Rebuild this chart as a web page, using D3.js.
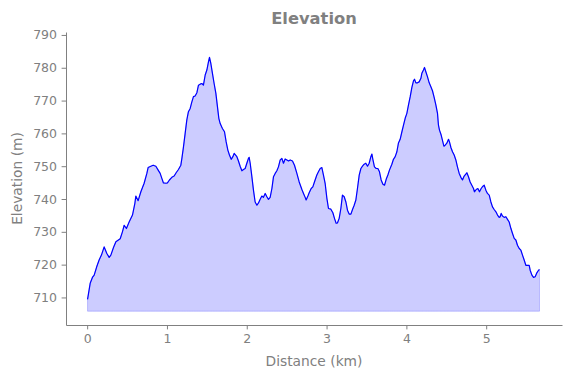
<!DOCTYPE html>
<html>
<head>
<meta charset="utf-8">
<script src="https://cdn.jsdelivr.net/npm/d3@7"></script>
<style>
  body { margin: 0; background: #fff; }
  text { font-family: "DejaVu Sans", sans-serif; }
</style>
</head>
<body>
<script>
// distance (km) and elevation (m)
const distance = [
  0.005, 0.038, 0.066, 0.088, 0.122, 0.150, 0.179, 0.213, 0.247, 0.276, 0.297, 0.330, 0.360, 0.414, 0.442, 0.464,
  0.492, 0.526, 0.568, 0.598, 0.610, 0.639, 0.673, 0.714, 0.748, 0.764, 0.798, 0.827, 0.861, 0.890, 0.915, 0.936,
  0.956, 0.990, 1.006, 1.031, 1.061, 1.090, 1.115, 1.144, 1.174, 1.187, 1.207, 1.228, 1.249, 1.269, 1.291, 1.312,
  1.332, 1.353, 1.375, 1.395, 1.416, 1.437, 1.457, 1.479, 1.500, 1.520, 1.533, 1.550, 1.570, 1.591, 1.613, 1.633,
  1.650, 1.667, 1.695, 1.721, 1.742, 1.763, 1.783, 1.805, 1.826, 1.842, 1.876, 1.896, 1.917, 1.939, 1.959, 1.980,
  2.001, 2.021, 2.030, 2.043, 2.064, 2.084, 2.105, 2.127, 2.147, 2.168, 2.189, 2.209, 2.231, 2.252, 2.272, 2.293,
  2.315, 2.335, 2.356, 2.377, 2.397, 2.419, 2.440, 2.460, 2.481, 2.503, 2.523, 2.544, 2.573, 2.598, 2.628, 2.657,
  2.691, 2.711, 2.732, 2.744, 2.766, 2.782, 2.807, 2.828, 2.848, 2.878, 2.898, 2.920, 2.941, 2.961, 2.982, 3.004,
  3.024, 3.054, 3.079, 3.099, 3.120, 3.136, 3.158, 3.179, 3.199, 3.221, 3.242, 3.262, 3.283, 3.305, 3.325, 3.346,
  3.367, 3.387, 3.409, 3.430, 3.450, 3.471, 3.492, 3.513, 3.534, 3.555, 3.568, 3.580, 3.600, 3.622, 3.643, 3.663,
  3.684, 3.706, 3.726, 3.747, 3.768, 3.788, 3.818, 3.838, 3.860, 3.881, 3.901, 3.922, 3.944, 3.964, 3.985, 4.006,
  4.026, 4.048, 4.069, 4.089, 4.102, 4.119, 4.139, 4.160, 4.182, 4.194, 4.214, 4.227, 4.244, 4.264, 4.286, 4.307,
  4.327, 4.348, 4.370, 4.390, 4.402, 4.415, 4.436, 4.457, 4.470, 4.486, 4.507, 4.528, 4.540, 4.558, 4.578, 4.599,
  4.620, 4.640, 4.662, 4.683, 4.703, 4.724, 4.758, 4.778, 4.799, 4.820, 4.841, 4.853, 4.875, 4.896, 4.916, 4.937,
  4.959, 4.975, 4.996, 5.016, 5.038, 5.059, 5.079, 5.100, 5.122, 5.142, 5.163, 5.175, 5.188, 5.204, 5.226, 5.247,
  5.267, 5.288, 5.310, 5.330, 5.351, 5.372, 5.392, 5.414, 5.435, 5.455, 5.476, 5.497, 5.518, 5.539, 5.551, 5.573,
  5.593, 5.614, 5.635, 5.656, 5.668
];
const elevation = [
  709.4, 714.3, 716.1, 716.8, 719.5, 721.4, 722.9, 725.4, 723.4, 722.2, 722.9, 725.2, 727.0, 727.9, 730.0, 732.0,
  731.0, 733.0, 735.1, 738.7, 740.9, 739.5, 742.2, 744.8, 747.8, 749.6, 750.0, 750.3, 750.0, 748.8, 747.8, 746.3,
  744.9, 744.8, 744.9, 745.8, 746.6, 747.0, 748.0, 749.0, 750.3, 752.4, 755.9, 760.0, 764.1, 766.6, 767.6, 769.6,
  771.2, 771.4, 772.4, 774.7, 775.0, 775.2, 774.7, 777.8, 779.3, 781.8, 783.2, 781.3, 778.3, 775.2, 772.2, 768.1,
  764.6, 763.0, 761.5, 760.5, 757.4, 754.9, 753.4, 752.1, 752.9, 753.9, 752.9, 751.6, 750.0, 748.6, 749.0, 749.3,
  750.9, 752.4, 752.7, 750.9, 746.8, 742.7, 739.1, 738.1, 738.8, 739.9, 740.9, 740.5, 741.7, 740.7, 739.9, 740.5,
  743.2, 746.8, 747.8, 748.6, 749.8, 751.9, 752.4, 750.9, 752.2, 751.9, 751.6, 751.9, 751.6, 750.3, 747.8, 745.2,
  742.9, 741.7, 740.5, 739.7, 740.9, 741.9, 743.2, 743.7, 745.2, 747.3, 748.3, 749.3, 749.6, 747.3, 744.8, 740.2,
  737.1, 736.9, 735.8, 734.1, 732.6, 732.7, 734.1, 737.1, 741.2, 740.7, 739.1, 736.6, 735.4, 735.4, 736.8, 738.1,
  739.7, 743.2, 747.3, 749.3, 750.0, 750.6, 750.9, 750.0, 750.9, 752.9, 753.7, 752.1, 749.8, 749.3, 749.3, 748.3,
  745.8, 744.5, 744.2, 746.0, 747.3, 748.8, 750.6, 752.1, 752.9, 754.4, 757.1, 758.2, 760.5, 762.5, 764.6, 766.1,
  768.6, 771.2, 774.0, 776.0, 776.5, 775.4, 775.4, 775.7, 776.8, 778.3, 779.3, 780.1, 778.8, 777.3, 775.4, 774.2,
  773.0, 771.0, 768.6, 766.1, 762.5, 761.0, 759.5, 757.4, 756.1, 756.4, 757.0, 758.2, 757.4, 755.7, 754.4, 753.4,
  751.9, 749.8, 747.8, 746.6, 745.8, 747.0, 748.0, 746.8, 745.2, 744.2, 743.2, 742.2, 742.9, 743.2, 742.2, 743.2,
  743.9, 744.2, 742.7, 741.7, 741.2, 739.1, 737.6, 736.8, 736.1, 735.1, 734.4, 734.6, 735.6, 734.8, 734.4, 734.6,
  733.8, 733.0, 731.0, 729.5, 728.0, 727.5, 725.9, 724.9, 724.4, 722.9, 721.4, 719.8, 719.8, 719.8, 718.3, 716.8,
  716.1, 716.3, 717.5, 718.3, 718.5
];
const xTicks = [0, 1, 2, 3, 4, 5];
const yTicks = [710, 720, 730, 740, 750, 760, 770, 780, 790];
const fillBase = 705.8;

const W = 571, H = 378;
const margin = {top: 32, right: 9, bottom: 53, left: 66};
const gray = "#808080";

const svg = d3.select("body").append("svg")
  .attr("width", W)
  .attr("height", H);

const x = d3.scaleLinear().domain([-0.265, 5.95]).range([margin.left, W - margin.right]);
const y = d3.scaleLinear().domain([701.6, 790.9]).range([H - margin.bottom, margin.top]);

const data = distance.map((d, i) => ({d: d, e: elevation[i]}));

const area = d3.area()
  .x(p => x(p.d))
  .y0(y(fillBase))
  .y1(p => y(p.e));

const line = d3.line()
  .x(p => x(p.d))
  .y(p => y(p.e));

svg.append("path")
  .datum(data)
  .attr("d", area)
  .attr("fill", "rgb(0,0,255)")
  .attr("fill-opacity", 0.2)
  .attr("stroke", "rgb(0,0,255)")
  .attr("stroke-opacity", 0.2)
  .attr("stroke-width", 1);

svg.append("path")
  .datum(data)
  .attr("d", line)
  .attr("fill", "none")
  .attr("stroke", "#0000ff")
  .attr("stroke-width", 1.2)
  .attr("stroke-linejoin", "round");

const xAxis = svg.append("g")
  .attr("transform", `translate(0,${H - margin.bottom})`)
  .call(d3.axisBottom(x).tickValues(xTicks).tickFormat(d3.format("d"))
    .tickSize(4.4).tickSizeOuter(0).tickPadding(4.6));

const yAxis = svg.append("g")
  .attr("transform", `translate(${margin.left},0)`)
  .call(d3.axisLeft(y).tickValues(yTicks).tickFormat(d3.format("d"))
    .tickSize(4.4).tickSizeOuter(0).tickPadding(4.6));

[xAxis, yAxis].forEach(g => {
  g.select(".domain").attr("stroke", gray).attr("stroke-width", 1);
  g.selectAll(".tick line").attr("stroke", gray).attr("stroke-width", 1);
  g.selectAll(".tick text").attr("fill", gray)
    .style("font-size", "12.5px")
    .style("font-family", "DejaVu Sans, sans-serif");
});

svg.append("text")
  .attr("x", (margin.left + W - margin.right) / 2)
  .attr("y", 361)
  .attr("dy", "0.35em")
  .attr("text-anchor", "middle")
  .attr("fill", gray)
  .style("font-size", "13.8px")
  .text("Distance (km)");

svg.append("text")
  .attr("transform", `translate(17,${(margin.top + H - margin.bottom) / 2}) rotate(-90)`)
  .attr("dy", "0.35em")
  .attr("text-anchor", "middle")
  .attr("fill", gray)
  .style("font-size", "13.8px")
  .text("Elevation (m)");

svg.append("text")
  .attr("x", (margin.left + W - margin.right) / 2)
  .attr("y", 18)
  .attr("dy", "0.35em")
  .attr("text-anchor", "middle")
  .attr("fill", gray)
  .style("font-size", "16.3px")
  .style("font-weight", "bold")
  .text("Elevation");
</script>
</body>
</html>
